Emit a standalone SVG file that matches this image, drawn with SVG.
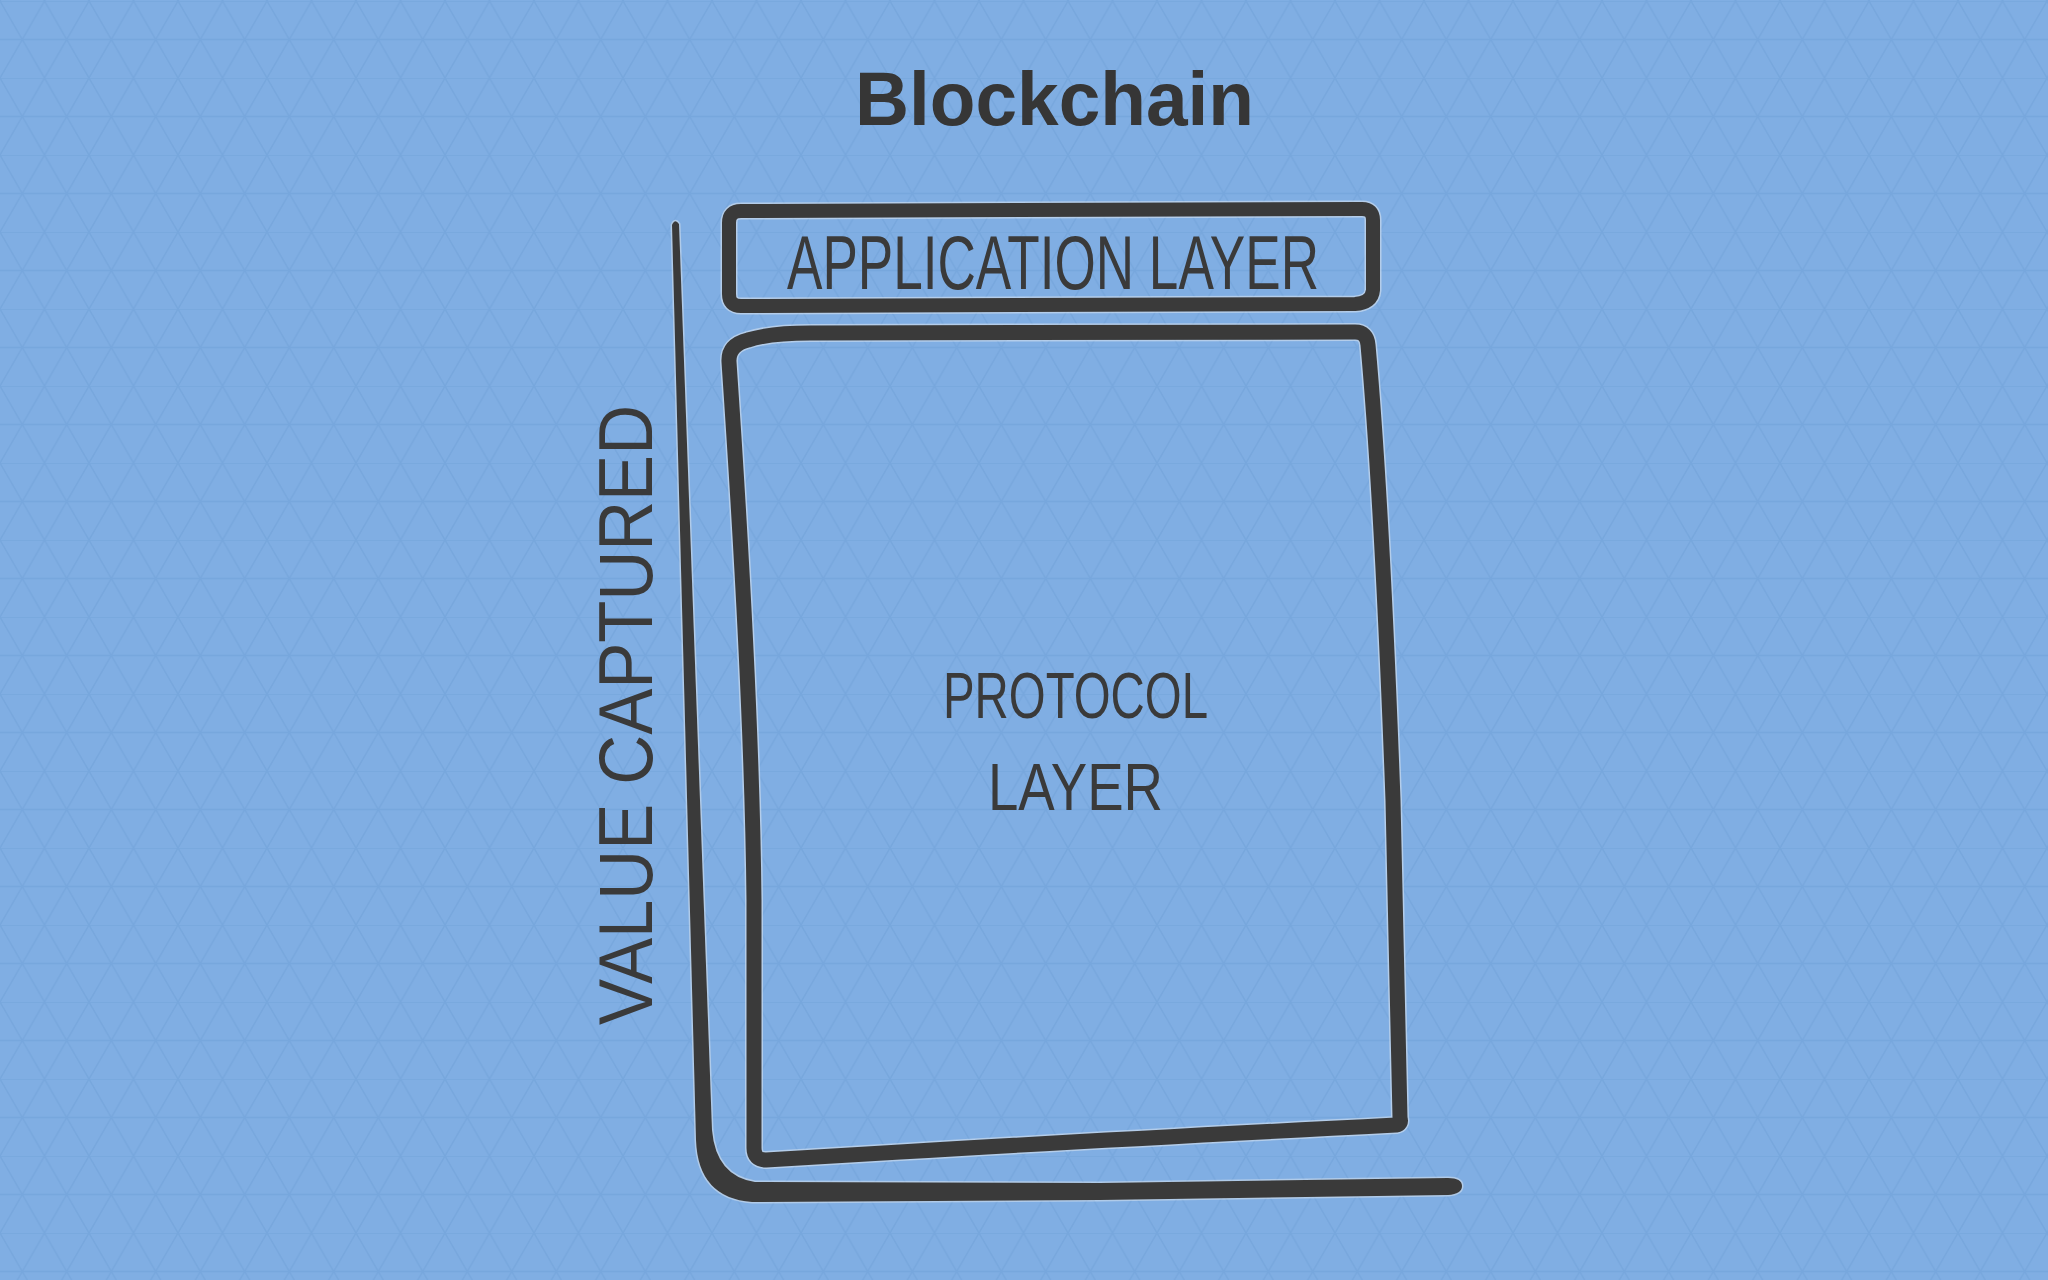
<svg xmlns="http://www.w3.org/2000/svg" width="2048" height="1280" viewBox="0 0 2048 1280">
  <defs>
    <pattern id="tri" x="0" y="1" width="44.5" height="77" patternUnits="userSpaceOnUse">
      <path d="M0 0 H44.5 M0 38.5 H44.5 M0 0 L44.5 77 M44.5 0 L0 77 M-22.25 38.5 L0 77 M44.5 0 L66.75 38.5 M22.25 -38.5 L44.5 0" fill="none" stroke="#6a9ad2" stroke-width="1.5" stroke-opacity="0.38"/>
    </pattern>
    <style>
      .ink { fill: none; stroke: #3a3a3a; stroke-linejoin: round; stroke-linecap: round; }
      .halo { fill: none; stroke: #dfe7f0; stroke-opacity: 0.55; stroke-linejoin: round; stroke-linecap: round; }
      .hand { font-family: "Liberation Sans", "DejaVu Sans", sans-serif; fill: #3a3a3a; }
      .title { font-family: "Liberation Sans", Arial, sans-serif; font-weight: bold; fill: #363636; }
    </style>
  </defs>

  <rect width="2048" height="1280" fill="#80aee3"/>
  <rect width="2048" height="1280" fill="url(#tri)"/>

  <g id="title">
    <text class="title" x="855" y="125" font-size="76" textLength="399" lengthAdjust="spacingAndGlyphs">Blockchain</text>
  </g>

  <g id="axis">
    <path d="M 672 225 Q 675 218 679 224 L 712 1130 Q 716 1176 755 1182 L 1100 1183 L 1448 1178 Q 1462 1178 1462 1186 Q 1462 1194 1448 1195 L 1100 1200 L 752 1202 Q 698 1198 696 1140 Z" fill="#dfe7f0" fill-opacity="0.5" stroke="#dfe7f0" stroke-opacity="0.5" stroke-width="3"/>
    <path d="M 672 225 Q 675 218 679 224 L 712 1130 Q 716 1176 755 1182 L 1100 1183 L 1448 1178 Q 1462 1178 1462 1186 Q 1462 1194 1448 1195 L 1100 1200 L 752 1202 Q 698 1198 696 1140 Z" fill="#3a3a3a"/>
  </g>

  <g id="axis-label">
    <text class="hand" transform="translate(652,1025) rotate(-90)" x="0" y="0" font-size="76" textLength="620" lengthAdjust="spacingAndGlyphs">VALUE CAPTURED</text>
  </g>

  <g id="app-layer">
    <path class="halo" stroke-width="17" d="M 741 211 L 1362 209 Q 1373 209 1373 220 L 1373 290 Q 1372 303 1355 304 L 741 306 Q 729 306 729 294 L 729 223 Q 729 211 741 211 Z"/>
    <path class="ink" stroke-width="14" d="M 741 211 L 1362 209 Q 1373 209 1373 220 L 1373 290 Q 1372 303 1355 304 L 741 306 Q 729 306 729 294 L 729 223 Q 729 211 741 211 Z"/>
    <text class="hand" x="787" y="289" font-size="76" textLength="532" lengthAdjust="spacingAndGlyphs">APPLICATION LAYER</text>
  </g>

  <g id="protocol-layer">
    <path class="halo" stroke-width="18" d="M 748 340 Q 770 333 810 333 L 1355 332 Q 1367 332 1368 345 Q 1382 500 1393 800 L 1400 1118 Q 1402 1124 1396 1125 Q 1100 1140 900 1152 L 766 1160 Q 754 1160 754 1148 L 754 900 C 752 700 735 450 729 362 Q 728 345 748 340 Z"/>
    <path class="ink" stroke-width="15" d="M 748 340 Q 770 333 810 333 L 1355 332 Q 1367 332 1368 345 Q 1382 500 1393 800 L 1400 1118 Q 1402 1124 1396 1125 Q 1100 1140 900 1152 L 766 1160 Q 754 1160 754 1148 L 754 900 C 752 700 735 450 729 362 Q 728 345 748 340 Z"/>
    <text class="hand" x="943" y="718" font-size="64" textLength="265" lengthAdjust="spacingAndGlyphs">PROTOCOL</text>
    <text class="hand" x="988" y="810" font-size="66" textLength="175" lengthAdjust="spacingAndGlyphs">LAYER</text>
  </g>

  <g id="connectors"></g>
</svg>
